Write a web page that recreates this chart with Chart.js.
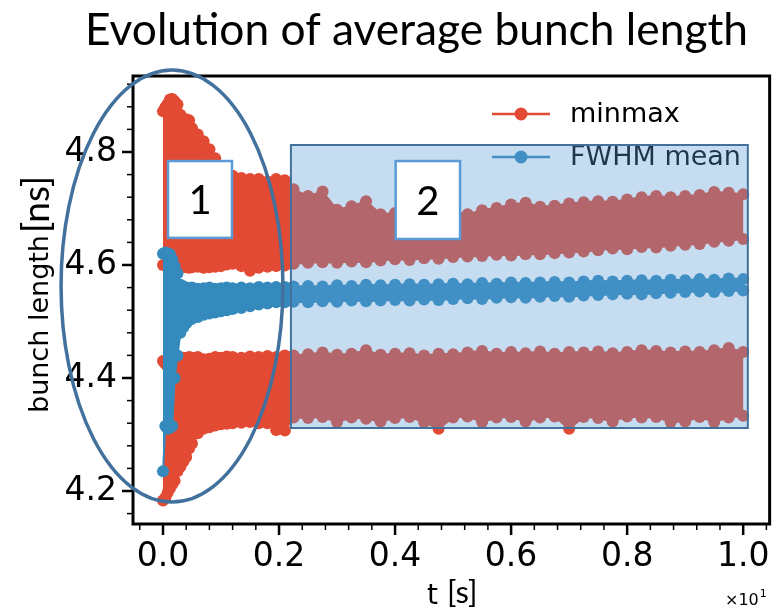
<!DOCTYPE html>
<html>
<head>
<meta charset="utf-8">
<title>Evolution of average bunch length</title>
<script src="https://cdn.jsdelivr.net/npm/chart.js@4.4.0/dist/chart.umd.min.js"></script>
<style>
  html, body { margin: 0; padding: 0; background: #fff; }
  #wrap { position: relative; width: 784px; height: 608px; }
</style>
</head>
<body>
<div id="wrap"><canvas id="bunch" width="784" height="608"></canvas></div>
<script>
// time in units of 10 s (axis shows x10^1)
var tSec = [0.000, 0.004, 0.008, 0.012, 0.016, 0.020, 0.025, 0.030, 0.035, 0.040, 0.045, 0.050,
  0.060, 0.070, 0.080, 0.090, 0.100, 0.110, 0.120, 0.135, 0.150, 0.165, 0.180, 0.195, 0.210,
  0.225, 0.250, 0.275, 0.300, 0.325, 0.350, 0.375, 0.400, 0.425, 0.450, 0.475, 0.500, 0.525,
  0.550, 0.575, 0.600, 0.625, 0.650, 0.675, 0.700, 0.725, 0.750, 0.775, 0.800, 0.825, 0.850,
  0.875, 0.900, 0.925, 0.950, 0.975, 1.000];

// minmax : max values (upper red band, top / bottom of the oscillation)
var maxTop = [4.872, 4.879, 4.885, 4.893, 4.894, 4.890, 4.884, 4.866, 4.858, 4.858, 4.856, 4.842,
  4.831, 4.819, 4.805, 4.789, 4.764, 4.761, 4.758, 4.754, 4.752, 4.752, 4.748, 4.752, 4.750,
  4.734, 4.722, 4.730, 4.698, 4.704, 4.713, 4.690, 4.692, 4.694, 4.692, 4.695, 4.694, 4.690,
  4.697, 4.701, 4.707, 4.710, 4.703, 4.705, 4.709, 4.711, 4.713, 4.712, 4.716, 4.720, 4.722,
  4.720, 4.722, 4.724, 4.729, 4.728, 4.725];
var maxBot = [4.600, 4.600, 4.600, 4.600, 4.598, 4.597, 4.597, 4.596, 4.597, 4.596, 4.595, 4.596,
  4.597, 4.595, 4.596, 4.597, 4.598, 4.601, 4.602, 4.598, 4.590, 4.595, 4.597, 4.598, 4.599,
  4.602, 4.604, 4.605, 4.604, 4.606, 4.605, 4.608, 4.610, 4.609, 4.612, 4.611, 4.614, 4.615,
  4.616, 4.618, 4.617, 4.619, 4.619, 4.621, 4.622, 4.624, 4.626, 4.629, 4.628, 4.632, 4.631,
  4.634, 4.636, 4.637, 4.641, 4.643, 4.646];

// minmax : min values (lower red band)
var minTop = [4.430, 4.425, 4.420, 4.420, 4.418, 4.419, 4.421, 4.430, 4.436, 4.435, 4.437, 4.436,
  4.437, 4.433, 4.434, 4.437, 4.436, 4.438, 4.437, 4.436, 4.438, 4.437, 4.439, 4.437, 4.440,
  4.440, 4.442, 4.445, 4.441, 4.443, 4.449, 4.441, 4.443, 4.444, 4.440, 4.443, 4.442, 4.445,
  4.448, 4.443, 4.446, 4.444, 4.447, 4.443, 4.446, 4.445, 4.447, 4.444, 4.446, 4.449, 4.448,
  4.445, 4.447, 4.446, 4.449, 4.453, 4.446];
var minBot = [4.183, 4.188, 4.197, 4.205, 4.212, 4.218, 4.235, 4.243, 4.252, 4.260, 4.275, 4.284,
  4.302, 4.310, 4.313, 4.316, 4.318, 4.319, 4.320, 4.321, 4.322, 4.320, 4.320, 4.308, 4.307,
  4.330, 4.329, 4.331, 4.322, 4.330, 4.328, 4.323, 4.329, 4.331, 4.322, 4.310, 4.330, 4.332,
  4.322, 4.330, 4.331, 4.323, 4.330, 4.332, 4.310, 4.331, 4.329, 4.323, 4.332, 4.330, 4.331,
  4.322, 4.323, 4.331, 4.322, 4.330, 4.333];

// FWHM mean (blue band)
var meanTop = [4.620, 4.622, 4.621, 4.619, 4.610, 4.598, 4.585, 4.565, 4.562, 4.560, 4.559, 4.560,
  4.558, 4.559, 4.560, 4.558, 4.559, 4.560, 4.559, 4.560, 4.559, 4.561, 4.560, 4.561, 4.561,
  4.562, 4.563, 4.562, 4.564, 4.563, 4.565, 4.564, 4.565, 4.566, 4.565, 4.566, 4.567, 4.566,
  4.568, 4.567, 4.569, 4.568, 4.569, 4.570, 4.569, 4.571, 4.572, 4.571, 4.572, 4.573, 4.572,
  4.574, 4.573, 4.575, 4.574, 4.576, 4.575];
var meanBot = [4.235, 4.315, 4.310, 4.312, 4.315, 4.400, 4.440, 4.480, 4.490, 4.497, 4.502, 4.505,
  4.508, 4.512, 4.514, 4.516, 4.518, 4.520, 4.522, 4.524, 4.527, 4.530, 4.532, 4.534, 4.534,
  4.535, 4.534, 4.536, 4.535, 4.537, 4.536, 4.537, 4.538, 4.537, 4.539, 4.538, 4.540, 4.541,
  4.540, 4.542, 4.543, 4.542, 4.544, 4.545, 4.544, 4.546, 4.547, 4.548, 4.549, 4.548, 4.550,
  4.551, 4.552, 4.553, 4.552, 4.554, 4.555];

var xTicks = [0.0, 0.2, 0.4, 0.6, 0.8, 1.0];
var xMinor = [-0.04, 0.04, 0.08, 0.12, 0.16, 0.24, 0.28, 0.32, 0.36, 0.44, 0.48, 0.52, 0.56,
  0.64, 0.68, 0.72, 0.76, 0.84, 0.88, 0.92, 0.96, 1.04];
var yTicks = [4.2, 4.4, 4.6, 4.8];
var yMinor = [4.16, 4.24, 4.28, 4.32, 4.36, 4.44, 4.48, 4.52, 4.56, 4.64, 4.68, 4.72, 4.76,
  4.84, 4.88, 4.92];

var RED = '#e24a33';
var BLUE = '#348abd';

// slide annotations, in data units
var region2 = { x0: 0.2205, x1: 1.008, y0: 4.3115, y1: 4.8124 };
var label1 = { x0: 0.0086, x1: 0.1189, y0: 4.648, y1: 4.784, text: '1' };
var label2 = { x0: 0.401, x1: 0.512, y0: 4.646, y1: 4.784, text: '2' };
var ring1 = { cx: 0.0155, cy: 4.5628, rx: 0.1912, ry: 0.3823 };

function pts(vals) {
  return tSec.map(function (t, i) { return { x: t, y: vals[i] }; });
}

function bandSet(vals, color, order, pairWith) {
  return {
    data: pts(vals),
    showLine: true,
    borderColor: color,
    borderWidth: 2,
    backgroundColor: color,
    pointRadius: 6,
    pointHoverRadius: 6,
    pointBackgroundColor: color,
    pointBorderWidth: 0,
    fill: false,
    pairWith: pairWith,
    order: order
  };
}

Chart.defaults.font.family = 'DejaVu Sans';

// fills the space between the upper and lower trace of a band (dense oscillation)
var bandFill = {
  id: 'bandFill',
  beforeDatasetDraw: function (chart, args) {
    var ds = chart.data.datasets[args.index];
    if (ds.pairWith === undefined) return;
    var hi = args.meta.data;
    var lo = chart.getDatasetMeta(ds.pairWith).data;
    var c = chart.ctx;
    c.save();
    c.fillStyle = ds.backgroundColor;
    c.beginPath();
    hi.forEach(function (p, i) { if (i === 0) c.moveTo(p.x, p.y); else c.lineTo(p.x, p.y); });
    for (var i = lo.length - 1; i >= 0; i--) c.lineTo(lo[i].x, lo[i].y);
    c.closePath();
    c.fill();
    c.restore();
  }
};

// everything that is not a data mark: spines, ticks, legend, slide shapes, labels
var decor = {
  id: 'decor',
  afterDraw: function (chart) {
    var c = chart.ctx;
    var a = chart.chartArea;
    var sx = chart.scales.x, sy = chart.scales.y;
    c.save();

    // spines
    c.strokeStyle = '#000';
    c.lineWidth = 3;
    c.strokeRect(a.left, a.top, a.right - a.left, a.bottom - a.top);

    // tick marks
    c.lineWidth = 2.5;
    xTicks.forEach(function (v) {
      var px = sx.getPixelForValue(v);
      c.beginPath(); c.moveTo(px, a.bottom); c.lineTo(px, a.bottom + 11); c.stroke();
    });
    yTicks.forEach(function (v) {
      var py = sy.getPixelForValue(v);
      c.beginPath(); c.moveTo(a.left, py); c.lineTo(a.left - 11, py); c.stroke();
    });
    c.lineWidth = 1.5;
    xMinor.forEach(function (v) {
      var px = sx.getPixelForValue(v);
      c.beginPath(); c.moveTo(px, a.bottom); c.lineTo(px, a.bottom + 6); c.stroke();
    });
    yMinor.forEach(function (v) {
      var py = sy.getPixelForValue(v);
      c.beginPath(); c.moveTo(a.left, py); c.lineTo(a.left - 6, py); c.stroke();
    });

    // legend
    var leg = [['minmax', RED, 114], ['FWHM mean', BLUE, 157]];
    leg.forEach(function (l) {
      c.strokeStyle = l[1]; c.fillStyle = l[1]; c.lineWidth = 2.5;
      c.beginPath(); c.moveTo(492, l[2]); c.lineTo(550, l[2]); c.stroke();
      c.beginPath(); c.arc(521, l[2], 6.5, 0, Math.PI * 2); c.fill();
      c.fillStyle = '#000';
      c.font = '27px "DejaVu Sans"';
      c.textBaseline = 'middle';
      c.textAlign = 'left';
      c.fillText(l[0], 570, l[2] + 1);
    });

    // translucent region 2
    var rx0 = sx.getPixelForValue(region2.x0), rx1 = sx.getPixelForValue(region2.x1);
    var ry0 = sy.getPixelForValue(region2.y1), ry1 = sy.getPixelForValue(region2.y0);
    c.fillStyle = 'rgba(91,155,213,0.35)';
    c.fillRect(rx0, ry0, rx1 - rx0, ry1 - ry0);
    c.strokeStyle = '#41719c'; c.lineWidth = 2;
    c.strokeRect(rx0, ry0, rx1 - rx0, ry1 - ry0);

    // numbered boxes
    [label1, label2].forEach(function (b) {
      var x0 = sx.getPixelForValue(b.x0), x1 = sx.getPixelForValue(b.x1);
      var y0 = sy.getPixelForValue(b.y1), y1 = sy.getPixelForValue(b.y0);
      c.fillStyle = '#fff';
      c.fillRect(x0, y0, x1 - x0, y1 - y0);
      c.strokeStyle = '#5b9bd5'; c.lineWidth = 2.5;
      c.strokeRect(x0, y0, x1 - x0, y1 - y0);
      c.fillStyle = '#000';
      c.font = '40px Lato';
      c.textAlign = 'center';
      c.textBaseline = 'alphabetic';
      c.fillText(b.text, (x0 + x1) / 2, (y0 + y1) / 2 + 15);
    });

    // ellipse around region 1
    var ecx = sx.getPixelForValue(ring1.cx), ecy = sy.getPixelForValue(ring1.cy);
    var erx = sx.getPixelForValue(ring1.cx + ring1.rx) - ecx;
    var ery = ecy - sy.getPixelForValue(ring1.cy + ring1.ry);
    c.strokeStyle = '#41719c'; c.lineWidth = 3.5;
    c.beginPath(); c.ellipse(ecx, ecy, erx, ery, 0, 0, Math.PI * 2); c.stroke();

    // title
    var title = 'Evolution of average bunch length';
    c.fillStyle = '#000';
    c.textAlign = 'left';
    c.textBaseline = 'alphabetic';
    c.font = '40px Lato';
    var tw = c.measureText(title).width;
    c.font = (40 * 663 / tw).toFixed(1) + 'px Lato';
    c.fillText(title, 85, 45);

    // y axis label
    c.save();
    c.translate(48, 413);
    c.rotate(-Math.PI / 2);
    c.font = '27px "DejaVu Sans"';
    c.fillText('bunch length', 0, 0);
    var bw = c.measureText('bunch length').width;
    c.font = '37px Lato';
    c.fillText('[ns]', bw + 2, 1);
    c.restore();

    // x axis label
    c.font = '28px "DejaVu Sans"';
    c.fillText('t', 427, 604);
    c.font = '31px Lato';
    c.fillText('[s]', 447, 603);

    // offset text
    c.font = '16px "DejaVu Sans"';
    c.fillText('\u00d710', 725, 605);
    var ow = c.measureText('\u00d710').width;
    c.font = '11px "DejaVu Sans"';
    c.fillText('1', 725 + ow + 1, 597);

    c.restore();
  }
};

var ctx = document.getElementById('bunch').getContext('2d');
var bunchChart = new Chart(ctx, {
  type: 'scatter',
  data: {
    datasets: [
      bandSet(meanTop, BLUE, 0, 1),
      bandSet(meanBot, BLUE, 0),
      bandSet(maxTop, RED, 1, 3),
      bandSet(maxBot, RED, 1),
      bandSet(minTop, RED, 1, 5),
      bandSet(minBot, RED, 1)
    ]
  },
  options: {
    responsive: false,
    animation: false,
    layout: { padding: { top: 76, right: 14, left: 0, bottom: 0 } },
    plugins: {
      legend: { display: false },
      tooltip: { enabled: false }
    },
    scales: {
      x: {
        type: 'linear',
        min: -0.0517,
        max: 1.0456,
        afterFit: function (s) { s.height = 84; },
        afterBuildTicks: function (s) { s.ticks = xTicks.map(function (v) { return { value: v }; }); },
        grid: { display: false, drawTicks: false },
        border: { display: false },
        ticks: {
          color: '#000',
          font: { size: 33 },
          padding: 14,
          maxRotation: 0,
          autoSkip: false,
          callback: function (v) { return v.toFixed(1); }
        }
      },
      y: {
        type: 'linear',
        min: 4.1416,
        max: 4.9345,
        afterFit: function (s) { s.width = 133; },
        afterBuildTicks: function (s) { s.ticks = yTicks.map(function (v) { return { value: v }; }); },
        grid: { display: false, drawTicks: false },
        border: { display: false },
        ticks: {
          color: '#000',
          font: { size: 33 },
          padding: 16,
          autoSkip: false,
          callback: function (v) { return v.toFixed(1); }
        }
      }
    }
  },
  plugins: [bandFill, decor]
});
</script>
</body>
</html>
